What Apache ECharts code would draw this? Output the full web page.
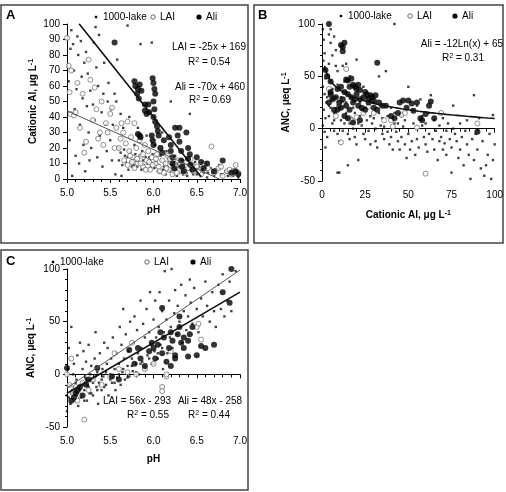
<!DOCTYPE html>
<html>
<head>
<meta charset="utf-8">
<script src="https://cdn.jsdelivr.net/npm/echarts@6/dist/echarts.min.js"></script>
<style>
  html, body { margin: 0; padding: 0; background: #fff; }
  #chart { width: 506px; height: 492px; }
</style>
</head>
<body>
<div id="chart"></div>
<script>
// panel A: pH vs cationic Al
var aLake = [[5.02,63],[5.03,25],[5.04,84],[5.05,96],[5.06,2],[5.07,87],[5.08,70],[5.09,45],[5.1,15],[5.11,58],[5.12,92],[5.13,80],[5.14,10],[5.15,35],[5.16,89],[5.17,66],[5.18,52],[5.19,22],[5.2,75],[5.21,5],[5.22,82],[5.23,47],[5.24,68],[5.25,30],[5.26,12],[5.27,57],[5.28,20],[5.3,48],[5.31,88],[5.32,38],[5.33,98],[5.34,72],[5.35,14],[5.36,60],[5.37,93],[5.38,28],[5.4,43],[5.41,8],[5.42,55],[5.43,75],[5.45,35],[5.46,18],[5.47,50],[5.48,62],[5.5,25],[5.51,45],[5.52,12],[5.53,35],[5.55,55],[5.56,3],[5.57,50],[5.58,77],[5.6,20],[5.62,42],[5.63,2],[5.65,33],[5.67,15],[5.7,99],[5.72,40],[5.75,8],[5.78,22],[5.8,12],[5.82,33],[5.85,87],[5.87,18],[5.9,7],[5.92,28],[5.95,14],[5.98,88],[6.0,10],[6.02,22],[6.05,5],[6.08,15],[6.1,30],[6.12,8],[6.15,18],[6.18,12],[6.2,50],[6.22,6],[6.25,15],[6.28,10],[6.3,4],[6.33,12],[6.36,7],[6.4,9],[6.42,42],[6.45,5],[6.48,11],[6.5,3],[6.53,8],[6.56,6],[6.6,10],[6.63,4],[6.66,7],[6.7,2],[6.73,6],[6.76,9],[6.8,3],[6.83,5],[6.86,2],[6.9,6],[6.93,3],[6.96,5],[6.98,1],
  [5.6,12],[5.62,17],[5.64,9],[5.66,19],[5.68,11],[5.7,14],[5.71,6],[5.73,17],[5.74,11],[5.76,13],[5.77,9],[5.79,16],[5.81,8],[5.83,11],[5.84,15],[5.86,6],[5.88,12],[5.89,9],[5.91,14],[5.93,10],[5.94,6],[5.96,12],[5.97,8],[5.99,16],[6.01,7],[6.03,11],[6.04,14],[6.06,9],[6.07,4],[6.09,12],[6.11,6],[6.13,10],[6.14,3],[6.16,8],[6.17,13],[6.19,5],[6.21,9],[6.23,3],[6.24,11],[6.26,6],[6.27,2],[6.29,8],[6.31,5],[6.34,3],[6.35,9],[6.38,4],[6.39,2],[6.43,6],[6.46,3],[6.5,7],[6.55,2],[6.58,4],[6.62,1],[6.68,4],[6.72,5],[6.78,3],[6.85,4],[6.92,2]];
var aLai = [[5.0,91],[5.02,73],[5.03,56],[5.05,70],[5.04,42],[5.08,41],[5.1,43],[5.12,62],[5.15,33],[5.18,55],[5.2,17],[5.22,24],[5.25,77],[5.27,64],[5.3,38],[5.32,59],[5.34,45],[5.36,26],[5.38,30],[5.4,50],[5.42,22],[5.45,36],[5.47,30],[5.5,42],[5.52,46],[5.55,20],[5.57,33],[5.6,20],[5.62,26],[5.63,36],[5.65,30],[5.68,23],[5.7,37],[5.72,18],[5.74,27],[5.76,14],[5.78,36],[5.8,20],[5.82,10],[5.84,25],[5.86,15],[5.88,8],[5.9,22],[5.92,12],[5.94,18],[5.96,6],[5.98,14],[6.0,24],[6.02,10],[6.04,16],[6.06,8],[6.08,20],[6.1,12],[6.12,4],[6.14,10],[6.16,15],[6.18,6],[6.2,11],[6.22,3],[6.25,8],[6.28,12],[6.3,5],[6.33,9],[6.36,4],[6.4,7],[6.43,13],[6.46,5],[6.5,8],[6.55,3],[6.6,6],[6.67,21],[6.7,4],[6.75,7],[6.8,2],[6.85,5],[6.9,3],[6.95,9],[6.98,4],
  [5.66,12],[5.7,9],[5.73,15],[5.75,11],[5.78,7],[5.81,13],[5.85,10],[5.88,16],[5.91,6],[5.95,11],[5.99,9],[6.03,13],[6.07,5],[6.11,17],[6.15,7],[6.19,13],[6.23,6],[6.27,4],[6.31,10],[6.35,6],[6.38,11],[6.45,9],[6.52,5],[6.58,10],[6.63,7],[6.72,5],[6.78,8],[6.88,6],[6.93,5]];
var aAli = [[5.55,88],[5.78,63],[5.79,60],[5.81,55],[5.82,58],[5.84,61],[5.83,52],[5.86,57],[5.9,48],[5.9,44],[5.92,42],[5.95,43],[5.94,48],[5.99,65],[6.0,62],[6.01,58],[6.02,55],[6.0,50],[6.01,45],[6.0,40],[6.02,37],[6.04,34],[6.05,31],[6.06,28],[5.82,29],[5.84,28],[5.85,27],[5.98,28],[5.99,25],[6.0,22],[6.08,20],[6.1,17],[6.12,25],[6.18,27],[6.2,22],[6.2,18],[6.22,14],[6.22,10],[6.24,7],[6.25,33],[6.3,33],[6.28,28],[6.3,24],[6.32,18],[6.32,12],[6.33,8],[6.35,5],[6.38,30],[6.4,20],[6.42,16],[6.4,13],[6.43,9],[6.45,6],[6.5,14],[6.55,11],[6.58,7],[6.62,10],[6.7,5],[6.8,12],[6.9,4],[6.95,5],[6.98,3]];

// panel B: cationic Al vs ANC
var bLake = [[0.5,95],[1,85],[1.5,72],[0.8,65],[1.2,57],[2,48],[0.5,40],[1.5,33],[2.5,25],[1,18],[2,10],[0.5,3],[1.5,-3],[3,-8],[2,-18],[4,90],[5,95],[5,82],[6,70],[4,62],[5,45],[6,38],[5,20],[4,12],[6,5],[7,-2],[8,60],[7,88],[8,75],[9,55],[9,42],[8,30],[9,22],[8,15],[7,8],[9,-5],[10,-12],[9,-42],[10,-42],[11,30],[12,25],[12,60],[13,45],[14,35],[14,15],[13,5],[15,-5],[15,-35],[14,62],[16,50],[17,30],[18,20],[17,10],[18,0],[19,-8],[20,-15],[21,-30],[22,25],[20,66],[22,12],[23,3],[24,-5],[25,-10],[24,40],[26,30],[27,-2],[28,-15],[29,5],[30,10],[31,-12],[32,-18],[33,50],[34,3],[35,-5],[36,-10],[37,55],[38,-3],[39,-15],[40,-8],[41,-20],[42,100],[42,5],[43,-3],[44,-12],[45,-20],[46,-8],[47,2],[48,-15],[49,-28],[50,40],[50,-5],[51,-20],[52,-12],[53,5],[54,-25],[55,-10],[56,-18],[57,28],[58,3],[59,-8],[60,-15],[61,-22],[62,-5],[63,32],[64,-10],[65,-20],[66,-2],[67,-30],[68,-12],[69,-8],[70,-20],[71,-14],[72,-25],[73,5],[74,-10],[75,-42],[75,-18],[76,22],[77,-5],[78,-12],[79,-28],[80,-20],[81,-8],[82,-35],[83,-2],[84,-15],[85,-25],[86,-48],[87,-10],[88,32],[88,-30],[89,-5],[90,-20],[91,10],[92,-38],[93,-12],[94,-45],[95,-35],[96,-25],[97,-5],[98,-48],[99,13],[99,-30],[100,-15],
  [3,30],[4,22],[6,28],[7,15],[10,20],[11,8],[12,-2],[14,25],[16,5],[16,-10],[19,15],[21,5],[23,18],[25,20],[26,8],[28,12],[30,25],[31,0],[33,15],[34,22],[35,10],[36,2],[38,12],[40,20],[42,15],[44,5],[46,12],[48,8],[52,18],[55,22],[58,12],[60,5],[62,15],[65,8],[68,3],[70,10],[72,-2],[76,0],[80,5],[84,8]];
var bLai = [[3,50],[4,38],[5,32],[8,12],[11,-13],[12,23],[14,57],[16,10],[17,8],[20,11],[24,15],[27,21],[30,15],[40,8],[41,2],[46,13],[48,15],[55,1],[60,-43],[69,15],[90,5],[9,28],[36,8]];
var bAli = [[4,100],[11,80],[12,78],[13,82],[12,74],[32,63],[2,56],[3,50],[5,45],[14,47],[15,46],[17,48],[18,42],[19,40],[20,38],[21,42],[22,37],[16,40],[13,35],[15,33],[17,30],[19,28],[20,33],[22,28],[24,30],[25,35],[26,33],[27,28],[28,32],[29,30],[30,27],[31,32],[33,25],[8,30],[6,28],[4,25],[5,33],[10,25],[11,20],[9,18],[7,18],[12,28],[14,22],[16,18],[18,25],[21,22],[23,20],[25,18],[27,25],[30,20],[32,18],[35,22],[37,22],[40,12],[42,10],[44,15],[45,25],[47,27],[49,20],[50,27],[52,24],[53,17],[55,25],[57,10],[58,8],[60,14],[62,22],[63,26],[65,10],[15,10],[13,12],[18,6],[22,8],[90,-3],[5,35],[9,38],[11,40]];

// panel C: pH vs ANC
var cLake = [[5.0,-35],[5.0,-20],[5.01,5],[5.02,25],[5.03,-10],[5.04,-28],[5.05,45],[5.06,-15],[5.07,0],[5.08,10],[5.09,-25],[5.1,-18],[5.11,-5],[5.12,18],[5.13,-30],[5.14,-12],[5.15,30],[5.16,-22],[5.17,-8],[5.18,5],[5.19,22],[5.2,-15],[5.21,-3],[5.22,12],[5.23,-25],[5.24,-10],[5.25,28],[5.26,-18],[5.27,0],[5.28,8],[5.3,-20],[5.31,-5],[5.32,15],[5.33,40],[5.34,-12],[5.35,2],[5.36,-28],[5.37,-8],[5.38,20],[5.4,-15],[5.41,5],[5.42,-2],[5.43,30],[5.45,-10],[5.46,10],[5.47,25],[5.48,-20],[5.5,0],[5.51,15],[5.52,-8],[5.53,35],[5.55,5],[5.56,-15],[5.57,20],[5.58,-3],[5.6,10],[5.61,45],[5.62,-10],[5.63,28],[5.64,2],[5.65,62],[5.66,15],[5.67,-5],[5.68,38],[5.7,8],[5.71,22],[5.72,-2],[5.73,50],[5.75,15],[5.76,3],[5.77,30],[5.78,55],[5.8,10],[5.81,42],[5.82,20],[5.83,0],[5.85,70],[5.86,25],[5.87,12],[5.88,48],[5.9,35],[5.91,5],[5.92,62],[5.93,18],[5.95,40],[5.96,78],[5.97,28],[5.98,10],[6.0,52],[6.01,22],[6.02,70],[6.03,35],[6.05,15],[6.06,45],[6.07,78],[6.08,28],[6.1,60],[6.11,5],[6.12,40],[6.13,98],[6.15,52],[6.16,20],[6.18,70],[6.19,35],[6.2,45],[6.21,100],[6.22,25],[6.24,58],[6.25,80],[6.27,38],[6.28,65],[6.3,50],[6.32,85],[6.33,30],[6.35,60],[6.37,75],[6.38,42],[6.4,55],[6.42,90],[6.43,68],[6.45,48],[6.47,82],[6.5,62],[6.52,40],[6.55,72],[6.57,55],[6.6,88],[6.62,65],[6.65,50],[6.68,78],[6.7,60],[6.72,45],[6.75,85],[6.78,62],[6.8,95],[6.82,55],[6.85,70],[6.88,88],[6.9,60],[6.95,98],
  [5.02,-22],[5.05,-18],[5.08,-12],[5.1,-8],[5.12,-20],[5.15,-15],[5.18,-10],[5.2,-25],[5.22,-5],[5.25,-12],[5.28,-18],[5.3,-8],[5.33,-2],[5.35,-15],[5.38,-10],[5.4,-5],[5.43,-12],[5.45,2],[5.5,-5],[5.55,-8],[5.6,0],[5.65,5],[5.7,-3],[5.75,8],[5.8,2],[5.85,10],[5.9,5],[5.95,15],[6.0,10],[6.05,20],[6.1,25]];
var cLai = [[5.0,0],[5.05,15],[5.03,-10],[5.07,-18],[5.1,-12],[5.12,-25],[5.15,-20],[5.18,-8],[5.2,-43],[5.25,-15],[5.3,-5],[5.4,-10],[5.5,-2],[5.6,5],[5.7,2],[5.8,0],[5.9,5],[6.0,10],[6.1,-12],[6.1,-16],[6.15,-2],[6.15,0],[6.2,22],[6.5,45],[6.55,33],[6.52,48],[5.75,30],[5.55,20]];
var cAli = [[5.0,6],[5.05,-25],[5.08,-22],[5.1,-18],[5.12,-15],[5.15,-12],[5.18,-20],[5.22,-10],[5.25,-5],[5.35,6],[5.52,-2],[5.6,-5],[5.72,23],[5.78,10],[5.82,25],[5.85,15],[5.9,8],[5.95,22],[5.98,30],[6.0,25],[6.02,15],[6.05,28],[6.08,40],[6.1,63],[6.1,20],[6.12,35],[6.15,12],[6.18,25],[6.2,40],[6.2,8],[6.22,32],[6.25,18],[6.28,38],[6.3,45],[6.3,55],[6.32,30],[6.35,35],[6.35,25],[6.4,17],[6.4,32],[6.42,38],[6.5,18],[6.55,27],[6.6,25],[6.7,28],[6.8,78],[6.9,100],[6.88,68],[6.25,15],[6.45,45]];

// fitted trend lines, from the equations printed on the chart
var aLaiFit = [-25, 169], aAliFit = [-70, 460];
var bAliFit = [-12, 65];
var cLaiFit = [56, -293], cAliFit = [48, -258];

var FONT = 'Liberation Sans, Arial, sans-serif';
var FS = 10;

function linePts(m, b, x0, x1) {
  return [[x0, m * x0 + b], [x1, m * x1 + b]];
}
function logPts(a, b, x0, x1) {
  var pts = [];
  for (var x = x0; x <= x1; x += (x < 10 ? 0.25 : 2)) pts.push([x, a * Math.log(x) + b]);
  return pts;
}

var chart = echarts.init(document.getElementById('chart'));

var nameStyle = {
  color: '#000', fontSize: FS, fontWeight: 'bold', fontFamily: FONT,
  rich: { sup: { fontSize: 7, fontWeight: 'bold', verticalAlign: 'top', lineHeight: 9, fontFamily: FONT } }
};

function xAx(grid, min, max, interval, fmt, name, gap) {
  return {
    type: 'value', gridIndex: grid, min: min, max: max, interval: interval,
    axisLine: { show: true, lineStyle: { color: '#000', width: 1 } },
    axisTick: { show: true, length: 4, lineStyle: { color: '#000' } },
    minorTick: { show: true, splitNumber: 5, length: 3, lineStyle: { color: '#000' } },
    splitLine: { show: false },
    axisLabel: { color: '#000', fontSize: FS, fontFamily: FONT, margin: 9, formatter: fmt },
    name: name, nameLocation: 'middle', nameGap: gap, nameTextStyle: nameStyle
  };
}
function yAx(grid, min, max, interval, minor, name, gap) {
  return {
    type: 'value', gridIndex: grid, min: min, max: max, interval: interval,
    axisLine: { show: true, lineStyle: { color: '#000', width: 1 } },
    axisTick: { show: true, length: 4, lineStyle: { color: '#000' } },
    minorTick: { show: minor, splitNumber: 5, length: 2, lineStyle: { color: '#000' } },
    splitLine: { show: false },
    axisLabel: { color: '#000', fontSize: FS, fontFamily: FONT, margin: 7 },
    name: name, nameLocation: 'middle', nameGap: gap, nameRotate: 90, nameTextStyle: nameStyle
  };
}
function fix1(v) { return v.toFixed(1); }

function lakeS(xi, data) {
  return { name: '1000-lake', type: 'scatter', xAxisIndex: xi, yAxisIndex: xi, data: data,
    symbol: 'rect', symbolSize: 2.4, itemStyle: { color: '#111' }, silent: true, z: 2 };
}
function laiS(xi, data) {
  return { name: 'LAI', type: 'scatter', xAxisIndex: xi, yAxisIndex: xi, data: data,
    symbol: 'circle', symbolSize: 5, itemStyle: { color: '#fff', borderColor: '#666', borderWidth: 0.9 }, silent: true, z: 3 };
}
function aliS(xi, data) {
  return { name: 'Ali', type: 'scatter', xAxisIndex: xi, yAxisIndex: xi, data: data,
    symbol: 'circle', symbolSize: 6, itemStyle: { color: '#000' }, silent: true, z: 4 };
}
function fitS(xi, data, w, col) {
  return { type: 'line', xAxisIndex: xi, yAxisIndex: xi, data: data, showSymbol: false, smooth: false,
    lineStyle: { color: col, width: w }, silent: true, z: 5 };
}

function legend(x, y, gaps) {
  var t = { fontSize: FS, fontFamily: FONT, fill: '#000', verticalAlign: 'middle' };
  return [
    { type: 'rect', shape: { x: x - 1.2, y: y - 1.2, width: 2.4, height: 2.4 }, style: { fill: '#000' } },
    { type: 'text', x: x + 7, y: y, style: Object.assign({ text: '1000-lake' }, t) },
    { type: 'circle', shape: { cx: x + gaps[0], cy: y, r: 2.2 }, style: { fill: '#fff', stroke: '#555', lineWidth: 0.9 } },
    { type: 'text', x: x + gaps[0] + 7, y: y, style: Object.assign({ text: 'LAI' }, t) },
    { type: 'circle', shape: { cx: x + gaps[1], cy: y, r: 2.6 }, style: { fill: '#000' } },
    { type: 'text', x: x + gaps[1] + 7, y: y, style: Object.assign({ text: 'Ali' }, t) }
  ];
}
function note(x, y, txt, align) {
  return { type: 'text', x: x, y: y, style: {
    text: txt, fontSize: FS, fontFamily: FONT, fill: '#000', align: align || 'center', verticalAlign: 'middle',
    rich: { sup: { fontSize: 7, fontFamily: FONT, verticalAlign: 'top', lineHeight: 9 }, n: { fontSize: FS, fontFamily: FONT } }
  } };
}
function frame(x, y, w, h) {
  return { type: 'rect', shape: { x: x, y: y, width: w, height: h }, style: { fill: 'none', stroke: '#444', lineWidth: 1.5 }, z: 0 };
}
function letter(x, y, t) {
  return { type: 'text', x: x, y: y, style: { text: t, fontSize: 13, fontWeight: 'bold', fontFamily: FONT, fill: '#000', verticalAlign: 'middle' } };
}

var gfx = [
  frame(1, 5, 247, 238), frame(254, 5, 249, 238), frame(1, 250, 247, 240),
  letter(6, 15, 'A'), letter(258, 15, 'B'), letter(6, 261, 'C')
].concat(legend(96, 17, [57, 103]), legend(341, 16, [69, 114]), legend(53, 262, [94, 140]), [
  note(209, 47, '{n|LAI = -25x + 169}'),
  note(209, 62, '{n|R}{sup|2}{n| = 0.54}'),
  note(210, 87, '{n|Ali = -70x + 460}'),
  note(210, 100, '{n|R}{sup|2}{n| = 0.69}'),
  note(503, 44, '{n|Ali = -12Ln(x) + 65}', 'right'),
  note(463, 58, '{n|R}{sup|2}{n| = 0.31}'),
  note(137, 401, '{n|LAI = 56x - 293}'),
  note(148, 415, '{n|R}{sup|2}{n| = 0.55}'),
  note(210, 401, '{n|Ali = 48x - 258}'),
  note(209, 415, '{n|R}{sup|2}{n| = 0.44}')
]);

chart.setOption({
  animation: false,
  backgroundColor: '#fff',
  grid: [
    { left: 67, top: 24, width: 173, height: 155 },
    { left: 322, top: 24, width: 173, height: 157 },
    { left: 67, top: 269, width: 173, height: 158 }
  ],
  xAxis: [
    xAx(0, 5, 7, 0.5, fix1, 'pH', 26),
    xAx(1, 0, 100, 25, null, 'Cationic Al, μg L{sup|-1}', 29),
    xAx(2, 5, 7, 0.5, fix1, 'pH', 27)
  ],
  yAxis: [
    yAx(0, 0, 100, 10, false, 'Cationic Al, μg L{sup|-1}', 29),
    yAx(1, -50, 100, 50, true, 'ANC, μeq L{sup|-1}', 31),
    yAx(2, -50, 100, 50, true, 'ANC, μeq L{sup|-1}', 31)
  ],
  series: [
    lakeS(0, aLake), laiS(0, aLai), aliS(0, aAli),
    fitS(0, linePts(aLaiFit[0], aLaiFit[1], 5.0, 6.76), 1, '#555'),
    fitS(0, linePts(aAliFit[0], aAliFit[1], 5.14, 6.55), 1.6, '#111'),
    lakeS(1, bLake), laiS(1, bLai), aliS(1, bAli),
    fitS(1, logPts(bAliFit[0], bAliFit[1], 1.5, 100), 1.6, '#111'),
    lakeS(2, cLake), laiS(2, cLai), aliS(2, cAli),
    fitS(2, linePts(cLaiFit[0], cLaiFit[1], 5.0, 7.0), 1, '#555'),
    fitS(2, linePts(cAliFit[0], cAliFit[1], 5.0, 7.0), 1.6, '#111')
  ],
  graphic: gfx
});
</script>
</body>
</html>
